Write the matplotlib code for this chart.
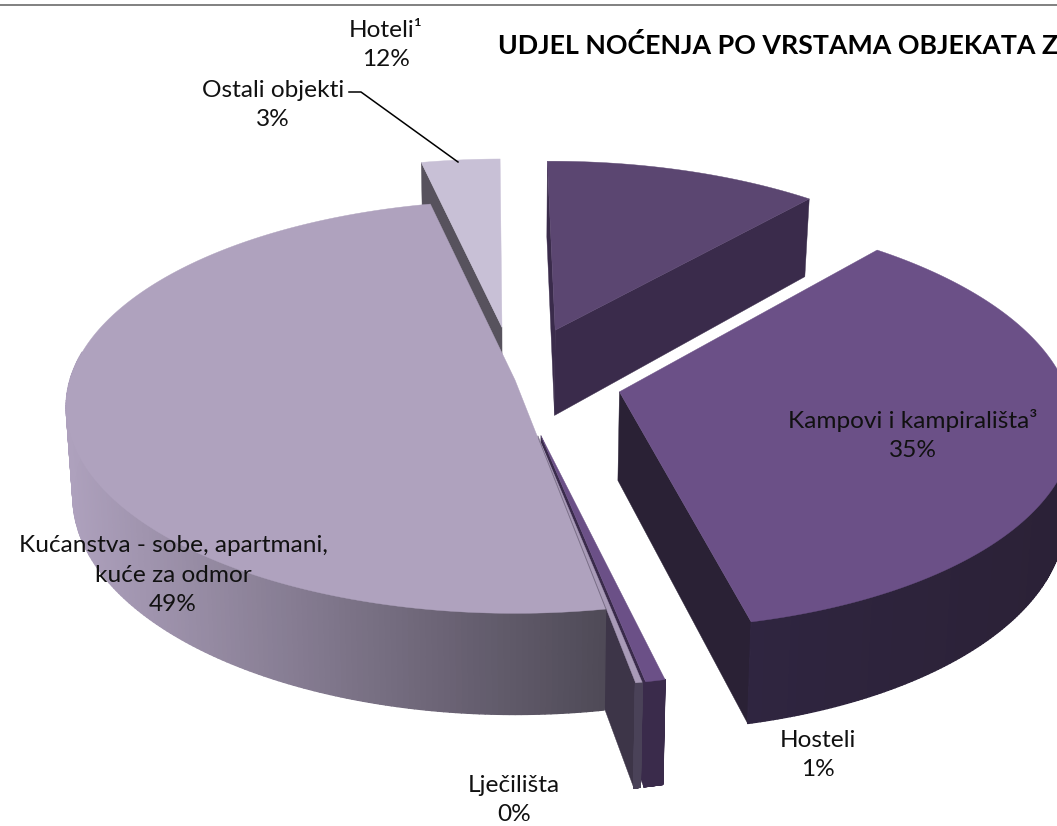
"""Exploded 3D pie of overnight stays by type of establishment."""
import matplotlib

matplotlib.use("Agg")
import matplotlib.pyplot as plt
import numpy as np
from matplotlib.collections import PolyCollection
from matplotlib.colors import to_rgb
from matplotlib.patches import Polygon

plt.rcParams["font.family"] = ["Lato", "DejaVu Sans"]

# clockwise from the start angle
NAMES = ["Hoteli¹", "Kampovi i kampirališta³", "Hosteli", "Lječilišta",
         "Kućanstva - sobe, apartmani,\nkuće za odmor", "Ostali objekti"]
SHARES = [11.5, 35.0, 0.6, 0.2, 49.4, 3.3]
TITLE = "UDJEL NOĆENJA PO VRSTAMA OBJEKATA Z"

EXPLODE = [0.27, 0.24, 0.27, 0.27, 0.0, 0.27]
TOP = ["#5b4671", "#6b5087", "#6b5087", "#a99bb8", "#afa2be", "#c8c0d6"]
FACE = ["#3a2b4b", "#2a2135", "#3a2b4b", "#3d3548", "#3d3548", "#57525d"]
ARC_FROM = ["#3a2b4b", "#2f2540", "#3a2b4b", "#4a4258", "#aea1bd", "#57525d"]
ARC_TO = ["#3a2b4b", "#2b2136", "#3a2b4b", "#4a4258", "#4f4a57", "#57525d"]
# label centre in pixels
LABEL_POS = [(386, 45), (913, 435), (818, 755), (514, 800), (173, 575), (273, 105)]
DRAW_ORDER = [5, 0, 1, 2, 3, 4]

START = -0.5
CX, CY = 515.0, 380.0
RX, RY = 445.0, 203.0
PERSP = 0.13
DEPTH = 88.0
SHRINK = 0.985


def project(u, v, z=0.0):
    w = 1.0 / (1.0 + PERSP * v)
    x = CX + RX * u * w
    y = CY - RY * v * w + DEPTH * z * w
    x = CX + (x - CX) * (1.0 - (1.0 - SHRINK) * z)
    return x, y


def slice_points(t1, t2, offset, n=160):
    th = np.radians(np.linspace(t1, t2, n))
    return offset[0] + np.sin(th), offset[1] + np.cos(th)


def draw_slice(ax, i, t1, t2, zorder):
    mid = np.radians((t1 + t2) / 2)
    off = (EXPLODE[i] * np.sin(mid), EXPLODE[i] * np.cos(mid))

    # radial cut faces that look towards the viewer
    for t, show in ((t1, np.sin(np.radians(t1)) < 0), (t2, np.sin(np.radians(t2)) > 0)):
        if not show:
            continue
        ou, ov = off[0] + np.sin(np.radians(t)), off[1] + np.cos(np.radians(t))
        quad = [project(*off), project(ou, ov), project(ou, ov, 1), project(*off, 1)]
        ax.add_patch(Polygon(quad, closed=True, fc=FACE[i], ec=FACE[i], lw=0.3, zorder=zorder))

    # outer wall, front part only
    a, b = max(t1, 85.0), min(t2, 278.0)
    if b > a:
        u, v = slice_points(a, b, off)
        x0, y0 = project(u, v)
        x1, y1 = project(u, v, 1)
        c0, c1 = np.array(to_rgb(ARC_FROM[i])), np.array(to_rgb(ARC_TO[i]))
        lo, hi = x0.min(), x0.max()
        quads, colors = [], []
        for k in range(len(u) - 1):
            quads.append([(x0[k], y0[k]), (x0[k + 1], y0[k + 1]), (x1[k + 1], y1[k + 1]), (x1[k], y1[k])])
            colors.append(c0 + (c1 - c0) * (x0[k] - lo) / max(hi - lo, 1.0))
        ax.add_collection(PolyCollection(quads, facecolors=colors, edgecolors=colors,
                                         linewidths=1.0, zorder=zorder + 0.1))

    u, v = slice_points(t1, t2, off)
    xs, ys = project(np.r_[off[0], u], np.r_[off[1], v])
    ax.add_patch(Polygon(np.c_[xs, ys], closed=True, fc=TOP[i], ec=TOP[i], lw=0.3, zorder=zorder + 0.2))


def main():
    fig = plt.figure(figsize=(10.57, 8.26), dpi=100, facecolor="white")
    ax = fig.add_axes([0, 0, 1, 1])
    ax.set_xlim(0, 1057)
    ax.set_ylim(826, 0)
    ax.axis("off")

    ax.plot([0, 1057], [4.5, 4.5], color="#808080", lw=1.4, zorder=1)

    edges = START + np.r_[0.0, np.cumsum(SHARES)] / sum(SHARES) * 360.0
    for order, i in enumerate(DRAW_ORDER):
        draw_slice(ax, i, edges[i], edges[i + 1], 2 + order)

    ax.plot([349, 361, 458], [92, 92, 162], color="black", lw=1.1, zorder=20)

    for name, share, (x, y) in zip(NAMES, SHARES, LABEL_POS):
        ax.text(x, y, f"{name}\n{share:.0f}%", ha="center", va="center", fontsize=17.6,
                color="#111111", linespacing=1.5, zorder=21)
    ax.text(498, 45, TITLE, ha="left", va="center", fontsize=19.3, fontweight="bold",
            color="black", zorder=21)

    fig.savefig("out.png", dpi=100, facecolor="white")
    plt.close(fig)


if __name__ == "__main__":
    main()
